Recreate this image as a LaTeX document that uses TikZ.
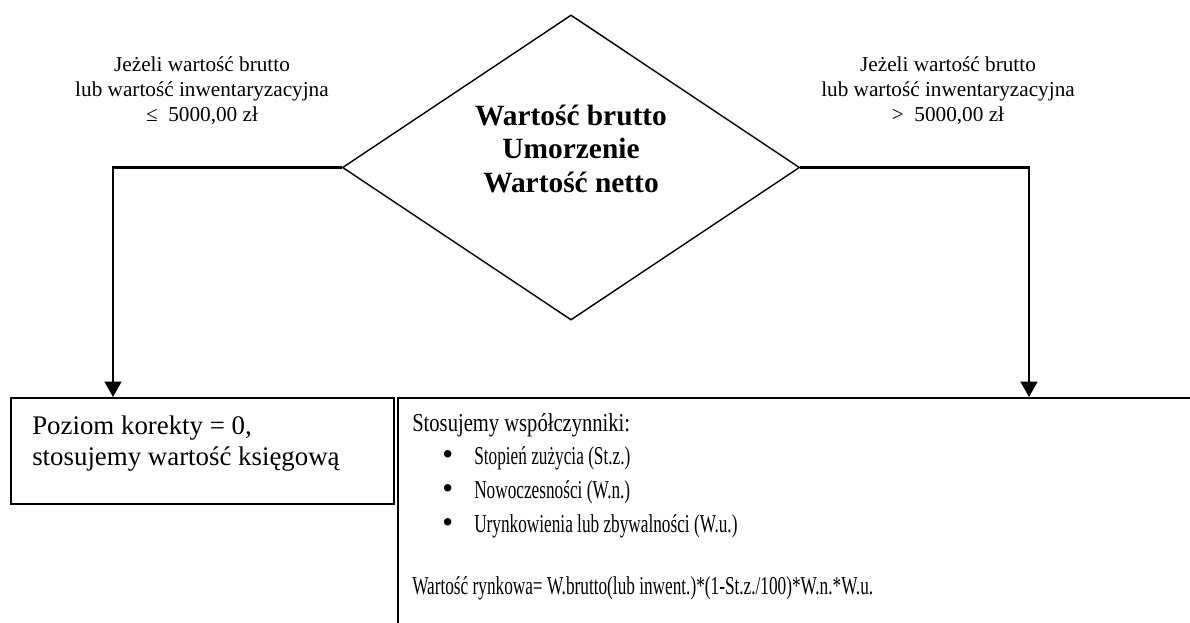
\documentclass[tikz,border=0pt]{standalone}
\usepackage{fontspec}
\setmainfont{Liberation Serif}
\newfontfamily\narrowserif[FakeStretch=0.67]{Liberation Serif}
\newfontfamily\headserif[FakeStretch=0.8]{Liberation Serif}
\usetikzlibrary{shapes.geometric,arrows.meta}
\tikzset{
  decision/.style={diamond, draw, line width=1pt, minimum width=11.425cm, minimum height=7.625cm, inner sep=0pt},
  flow/.style={line width=1.5pt, -{Triangle[width=12pt,length=11pt]}},
  cond/.style={align=center, font=\fontsize{15.1}{17.8}\selectfont},
  boxtext/.style={anchor=base west, inner sep=0pt, font=\narrowserif\fontsize{18.3}{24}\selectfont},
}
\begin{document}
\begin{tikzpicture}[x=0.025cm, y=-0.025cm]
\useasboundingbox (0,0) rectangle (1190,623);
\clip (0,0) rectangle (1190,623);
% decision
\node[decision] (dec) at (571,167.5) {};
\node[align=center, font=\bfseries\fontsize{20.9}{23.5}\selectfont] (dectext) at (571,149) {Wartość brutto\\Umorzenie\\Wartość netto};
% conditions
\node[cond] (condle) at (202,91) {Jeżeli wartość brutto\\lub wartość inwentaryzacyjna\\≤\ \ 5000,00 zł};
\node[cond] (condgt) at (948,91) {Jeżeli wartość brutto\\lub wartość inwentaryzacyjna\\>\ \ 5000,00 zł};
% boxes
\node[draw, line width=1.4pt, minimum width=9.575cm, minimum height=2.65cm, anchor=north west] (leftbox) at (10,397) {};
\node[anchor=west, inner sep=0pt, align=left, font=\fontsize{19.1}{22}\selectfont] (lefttext) at (32,444) {Poziom korekty = 0,\\stosujemy wartość księgową};
\node[draw, line width=1.2pt, minimum width=20.5cm, minimum height=6cm, anchor=north west] (rightbox) at (397,397) {};
\node[boxtext, font=\headserif\fontsize{18.3}{24}\selectfont] (head) at (412,431) {Stosujemy współczynniki:};
\foreach \t [count=\i] in {Stopień zużycia (St.z.), Nowoczesności (W.n.), Urynkowienia lub zbywalności (W.u.)}
  \node[boxtext] (item\i) at (474,431+\i*33.7) {\llap{{\rmfamily\fontsize{22}{22}\selectfont•}\hspace{15pt}}\t};
\node[boxtext] (formula) at (412,594) {Wartość rynkowa= W.brutto(lub inwent.)*(1-St.z./100)*W.n.*W.u.};
% connectors
\coordinate (lefttip) at (113,397);
\coordinate (righttip) at (1029,397);
\draw[flow] (dec.west) -| (lefttip);
\draw[flow] (dec.east) -| (righttip);
\end{tikzpicture}
\end{document}
